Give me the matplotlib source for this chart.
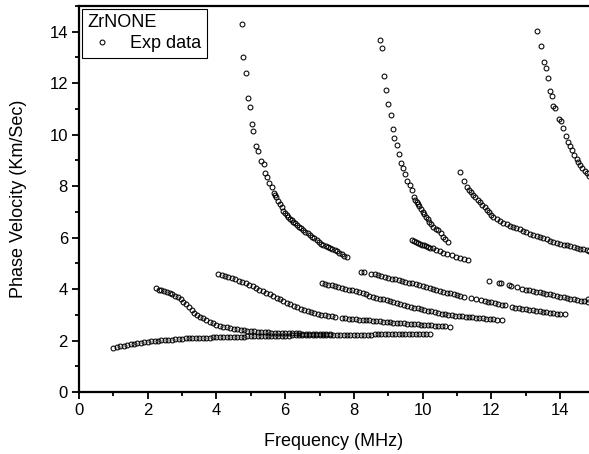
import matplotlib
matplotlib.use('Agg')
import matplotlib.pyplot as plt
from matplotlib.ticker import MultipleLocator

plt.rcParams['font.family'] = ['Liberation Sans', 'DejaVu Sans']

# lowest branch
a_x = [1.0, 1.1, 1.2, 1.3, 1.4, 1.5, 1.6, 1.7, 1.8, 1.9,
       2.0, 2.1, 2.2, 2.3, 2.4, 2.5, 2.6, 2.7, 2.8, 2.9,
       3.0, 3.1, 3.2, 3.3, 3.4, 3.5, 3.6, 3.7, 3.8, 3.9,
       4.0, 4.1, 4.2, 4.3, 4.4, 4.5, 4.6, 4.7, 4.8, 4.9,
       5.0, 5.1, 5.2, 5.3, 5.4, 5.5, 5.6, 5.7, 5.8, 5.9,
       6.0, 6.1, 6.2, 6.3, 6.4, 6.5, 6.6, 6.7, 6.8, 6.9,
       7.0, 7.1, 7.2, 7.3, 7.4, 7.5, 7.6, 7.7, 7.8, 7.9,
       8.0, 8.1, 8.2, 8.3, 8.4, 8.5, 8.6, 8.7, 8.8, 8.9,
       9.0, 9.1, 9.2, 9.3, 9.4, 9.5, 9.6, 9.7, 9.8, 9.9,
       10.0, 10.1, 10.2]
a_y = [1.72, 1.75, 1.78, 1.80, 1.83, 1.85, 1.87, 1.89, 1.91, 1.93,
       1.95, 1.97, 1.98, 2.00, 2.01, 2.02, 2.03, 2.04, 2.05, 2.06,
       2.07, 2.08, 2.08, 2.09, 2.09, 2.10, 2.10, 2.11, 2.11, 2.12,
       2.12, 2.13, 2.13, 2.13, 2.14, 2.14, 2.15, 2.15, 2.15, 2.16,
       2.16, 2.16, 2.17, 2.17, 2.17, 2.18, 2.18, 2.18, 2.19, 2.19,
       2.19, 2.19, 2.20, 2.20, 2.20, 2.20, 2.21, 2.21, 2.21, 2.21,
       2.21, 2.22, 2.22, 2.22, 2.22, 2.22, 2.22, 2.23, 2.23, 2.23,
       2.23, 2.23, 2.23, 2.23, 2.23, 2.23, 2.24, 2.24, 2.24, 2.24,
       2.24, 2.24, 2.24, 2.24, 2.24, 2.24, 2.24, 2.24, 2.24, 2.24,
       2.24, 2.25, 2.25]

b_x = [2.24, 2.32, 2.40, 2.48, 2.56, 2.64, 2.72, 2.80, 2.88, 2.96,
       3.04, 3.12, 3.20, 3.28, 3.36, 3.44, 3.52, 3.60, 3.70, 3.80,
       3.90, 4.00, 4.10, 4.20, 4.30, 4.40, 4.50, 4.60, 4.70, 4.80,
       4.90, 5.00, 5.10, 5.20, 5.30, 5.40, 5.50, 5.60, 5.70, 5.80,
       5.90, 6.00, 6.10, 6.20, 6.30, 6.40, 6.50, 6.60, 6.70, 6.80,
       6.90, 7.00, 7.10, 7.20, 7.30]
b_y = [4.04, 3.98, 3.95, 3.92, 3.89, 3.86, 3.81, 3.75, 3.68, 3.60,
       3.51, 3.41, 3.30, 3.19, 3.08, 2.98, 2.92, 2.86, 2.80, 2.73,
       2.67, 2.62, 2.58, 2.54, 2.51, 2.48, 2.45, 2.43, 2.41, 2.40,
       2.38, 2.37, 2.36, 2.35, 2.34, 2.33, 2.32, 2.31, 2.31, 2.30,
       2.30, 2.29, 2.29, 2.28, 2.28, 2.28, 2.27, 2.27, 2.27, 2.26,
       2.26, 2.26, 2.26, 2.25, 2.25]

c_x = [4.05, 4.15, 4.25, 4.35, 4.45, 4.55, 4.65, 4.75, 4.85, 4.95,
       5.05, 5.15, 5.25, 5.35, 5.45, 5.55, 5.65, 5.75, 5.85, 5.95,
       6.05, 6.15, 6.25, 6.35, 6.45, 6.55, 6.65, 6.75, 6.85, 6.95,
       7.05, 7.15, 7.25, 7.35, 7.45, 7.65, 7.75, 7.85, 7.95, 8.05,
       8.15, 8.25, 8.35, 8.45, 8.55, 8.65, 8.75, 8.85, 8.95, 9.05,
       9.15, 9.25, 9.35, 9.45, 9.55, 9.65, 9.75, 9.85, 9.95, 10.05,
       10.15, 10.25, 10.35, 10.45, 10.55, 10.65, 10.80]
c_y = [4.58, 4.53, 4.50, 4.46, 4.43, 4.38, 4.33, 4.28, 4.22, 4.17,
       4.11, 4.05, 3.98, 3.92, 3.86, 3.80, 3.73, 3.67, 3.60, 3.53,
       3.47, 3.42, 3.36, 3.30, 3.24, 3.19, 3.15, 3.11, 3.07, 3.04,
       3.01, 2.99, 2.97, 2.95, 2.93, 2.88, 2.87, 2.85, 2.84, 2.82,
       2.81, 2.80, 2.79, 2.78, 2.77, 2.76, 2.74, 2.73, 2.72, 2.71,
       2.70, 2.69, 2.68, 2.67, 2.66, 2.65, 2.64, 2.63, 2.62, 2.61,
       2.60, 2.59, 2.58, 2.57, 2.56, 2.55, 2.53]

d_x = [7.06, 7.15, 7.25, 7.35, 7.45, 7.55, 7.65, 7.75, 7.85, 7.95,
       8.05, 8.15, 8.25, 8.35, 8.45, 8.55, 8.65, 8.75, 8.85, 8.95,
       9.05, 9.15, 9.25, 9.35, 9.45, 9.55, 9.65, 9.75, 9.85, 9.95,
       10.05, 10.15, 10.25, 10.35, 10.45, 10.55, 10.65, 10.75, 10.85, 10.95,
       11.05, 11.15, 11.25, 11.35, 11.45, 11.55, 11.65, 11.75, 11.85, 11.95,
       12.05, 12.15, 12.30]
d_y = [4.24, 4.20, 4.17, 4.14, 4.11, 4.08, 4.05, 4.02, 3.98, 3.95,
       3.91, 3.87, 3.83, 3.79, 3.75, 3.71, 3.67, 3.63, 3.60, 3.56,
       3.53, 3.49, 3.46, 3.42, 3.39, 3.35, 3.32, 3.28, 3.25, 3.22,
       3.19, 3.16, 3.13, 3.10, 3.07, 3.05, 3.03, 3.01, 2.99, 2.97,
       2.95, 2.94, 2.92, 2.91, 2.90, 2.89, 2.88, 2.86, 2.85, 2.84,
       2.82, 2.81, 2.79]

e_x = [8.22, 8.30, 8.50, 8.60, 8.70, 8.80, 8.90, 9.00, 9.10, 9.20,
       9.30, 9.40, 9.50, 9.60, 9.70, 9.80, 9.90, 10.00, 10.10, 10.20,
       10.30, 10.40, 10.50, 10.60, 10.70, 10.80, 10.90, 11.00, 11.10, 11.20,
       11.42, 11.55, 11.70, 11.80, 11.90, 12.00, 12.10, 12.20, 12.30, 12.40]
e_y = [4.66, 4.65, 4.60, 4.57, 4.54, 4.51, 4.48, 4.44, 4.41, 4.38,
       4.35, 4.32, 4.28, 4.25, 4.22, 4.18, 4.14, 4.11, 4.07, 4.04,
       4.00, 3.97, 3.94, 3.90, 3.86, 3.83, 3.80, 3.77, 3.74, 3.71,
       3.64, 3.61, 3.57, 3.54, 3.51, 3.48, 3.45, 3.42, 3.39, 3.37]

f_x = [11.94, 12.22, 12.27, 12.50, 12.58, 12.74, 12.90, 13.00, 13.10, 13.20,
       13.30, 13.40, 13.50, 13.60, 13.70, 13.80, 13.90, 14.00, 14.10, 14.20,
       14.30, 14.40, 14.50, 14.60, 14.70, 14.80, 14.80]
f_y = [4.31, 4.24, 4.22, 4.14, 4.12, 4.07, 4.01, 3.98, 3.95, 3.93,
       3.90, 3.87, 3.85, 3.82, 3.79, 3.76, 3.74, 3.71, 3.68, 3.65,
       3.63, 3.60, 3.57, 3.54, 3.52, 3.49, 3.62]

g_x = [12.59, 12.70, 12.80, 12.90, 13.00, 13.10, 13.20, 13.30, 13.40, 13.50,
       13.60, 13.70, 13.80, 13.90, 14.00, 14.15]
g_y = [3.31, 3.28, 3.26, 3.24, 3.22, 3.20, 3.18, 3.16, 3.14, 3.12,
       3.10, 3.08, 3.06, 3.05, 3.04, 3.02]

# steep branches
h_x = [4.73, 4.78, 4.87, 4.91, 4.98, 5.04, 5.07, 5.15, 5.22, 5.29,
       5.37, 5.42, 5.47, 5.54, 5.61, 5.66, 5.70, 5.74, 5.80, 5.85,
       5.90, 5.95, 6.00, 6.05, 6.09, 6.14, 6.19, 6.24, 6.29, 6.34,
       6.40, 6.46, 6.53, 6.59, 6.66, 6.72, 6.79, 6.85, 6.92, 6.98,
       7.05, 7.11, 7.18, 7.24, 7.31, 7.37, 7.44, 7.50, 7.57, 7.64,
       7.72, 7.79]
h_y = [14.31, 13.00, 12.40, 11.43, 11.08, 10.42, 10.13, 9.56, 9.38, 8.99,
       8.85, 8.52, 8.37, 8.11, 7.98, 7.74, 7.65, 7.56, 7.43, 7.30,
       7.17, 7.05, 6.97, 6.88, 6.81, 6.74, 6.68, 6.62, 6.55, 6.49,
       6.43, 6.36, 6.29, 6.23, 6.16, 6.10, 6.03, 5.97, 5.90, 5.84,
       5.77, 5.71, 5.66, 5.62, 5.58, 5.54, 5.50, 5.47, 5.42, 5.36,
       5.30, 5.25]

i_x = [8.76, 8.82, 8.88, 8.94, 9.00, 9.07, 9.13, 9.17, 9.25, 9.31,
       9.37, 9.42, 9.49, 9.55, 9.63, 9.68, 9.75, 9.79, 9.83, 9.87,
       9.90, 9.95, 10.00, 10.05, 10.10, 10.15, 10.19, 10.25, 10.31, 10.38,
       10.46, 10.53, 10.60, 10.66, 10.73]
i_y = [13.66, 13.37, 12.28, 11.73, 11.18, 10.76, 10.21, 9.86, 9.60, 9.24,
       8.91, 8.69, 8.47, 8.21, 8.04, 7.85, 7.56, 7.47, 7.39, 7.31,
       7.23, 7.11, 7.00, 6.90, 6.81, 6.71, 6.61, 6.51, 6.42, 6.35,
       6.29, 6.16, 6.03, 5.94, 5.84]

j_x = [9.68, 9.74, 9.80, 9.86, 9.92, 9.98, 10.04, 10.10, 10.16, 10.22,
       10.31, 10.40, 10.50, 10.60, 10.70, 10.85, 10.97, 11.09, 11.21, 11.33]
j_y = [5.90, 5.87, 5.82, 5.79, 5.76, 5.73, 5.70, 5.67, 5.64, 5.61,
       5.58, 5.52, 5.46, 5.40, 5.36, 5.32, 5.25, 5.19, 5.15, 5.12]

k_x = [11.09, 11.20, 11.30, 11.35, 11.40, 11.47, 11.53, 11.60, 11.67, 11.74,
       11.80, 11.86, 11.93, 12.00, 12.06, 12.15, 12.25, 12.35, 12.45, 12.55,
       12.64, 12.73, 12.82, 12.92, 13.02, 13.12, 13.22, 13.32, 13.42, 13.51,
       13.61, 13.70, 13.80, 13.90, 14.00, 14.10, 14.20, 14.29, 14.39, 14.48,
       14.58, 14.67, 14.77, 14.85]
k_y = [8.56, 8.20, 7.95, 7.85, 7.78, 7.66, 7.56, 7.48, 7.39, 7.28,
       7.18, 7.08, 6.98, 6.89, 6.81, 6.74, 6.66, 6.58, 6.52, 6.46,
       6.42, 6.37, 6.32, 6.26, 6.20, 6.15, 6.10, 6.05, 6.01, 5.97,
       5.93, 5.88, 5.84, 5.80, 5.77, 5.73, 5.70, 5.67, 5.64, 5.60,
       5.57, 5.54, 5.51, 5.48]

l_x = [13.34, 13.45, 13.53, 13.59, 13.65, 13.71, 13.76, 13.80, 13.85, 13.97,
       14.03, 14.08, 14.17, 14.23, 14.29, 14.35, 14.41, 14.48, 14.53, 14.58,
       14.65, 14.71, 14.77, 14.83]
l_y = [14.03, 13.45, 12.83, 12.59, 12.20, 11.70, 11.50, 11.12, 11.04, 10.61,
       10.53, 10.26, 9.95, 9.73, 9.55, 9.40, 9.22, 9.05, 8.92, 8.82,
       8.70, 8.60, 8.50, 8.40]

branches = [(a_x, a_y), (b_x, b_y), (c_x, c_y), (d_x, d_y), (e_x, e_y),
            (f_x, f_y), (g_x, g_y), (h_x, h_y), (i_x, i_y), (j_x, j_y),
            (k_x, k_y), (l_x, l_y)]

fig = plt.figure(figsize=(5.89, 4.54), dpi=100)
ax = fig.add_axes([79 / 589, 62 / 454, 510 / 589, 386 / 454])

for n, (bx, by) in enumerate(branches):
    ax.plot(bx, by, 'o', ms=3.5, mfc='none', mec='black', mew=0.75,
            label='Exp data' if n == 0 else None)

ax.set_xlim(0, 14.84)
ax.set_ylim(0, 15)
ax.xaxis.set_major_locator(MultipleLocator(2))
ax.xaxis.set_minor_locator(MultipleLocator(1))
ax.yaxis.set_major_locator(MultipleLocator(2))
ax.yaxis.set_minor_locator(MultipleLocator(1))
ax.tick_params(which='major', direction='out', length=5, width=1.3, labelsize=12, pad=3)
ax.tick_params(which='minor', direction='out', length=3, width=1.3)
for s in ['left', 'bottom', 'top']:
    ax.spines[s].set_linewidth(1.6)
ax.spines['right'].set_visible(False)

ax.set_xlabel('Frequency (MHz)', fontsize=13, labelpad=11)
ax.set_ylabel('Phase Velocity (Km/Sec)', fontsize=13, labelpad=16)

leg = ax.legend(title='ZrNONE', loc='upper left', fontsize=13, title_fontsize=13,
                alignment='left', fancybox=False, edgecolor='black',
                borderaxespad=0.15, borderpad=0.3, handletextpad=0.7,
                handlelength=1.7, framealpha=1)
leg.get_frame().set_linewidth(0.8)
leg._legend_box.sep = 3

fig.savefig('out.png', dpi=100)
